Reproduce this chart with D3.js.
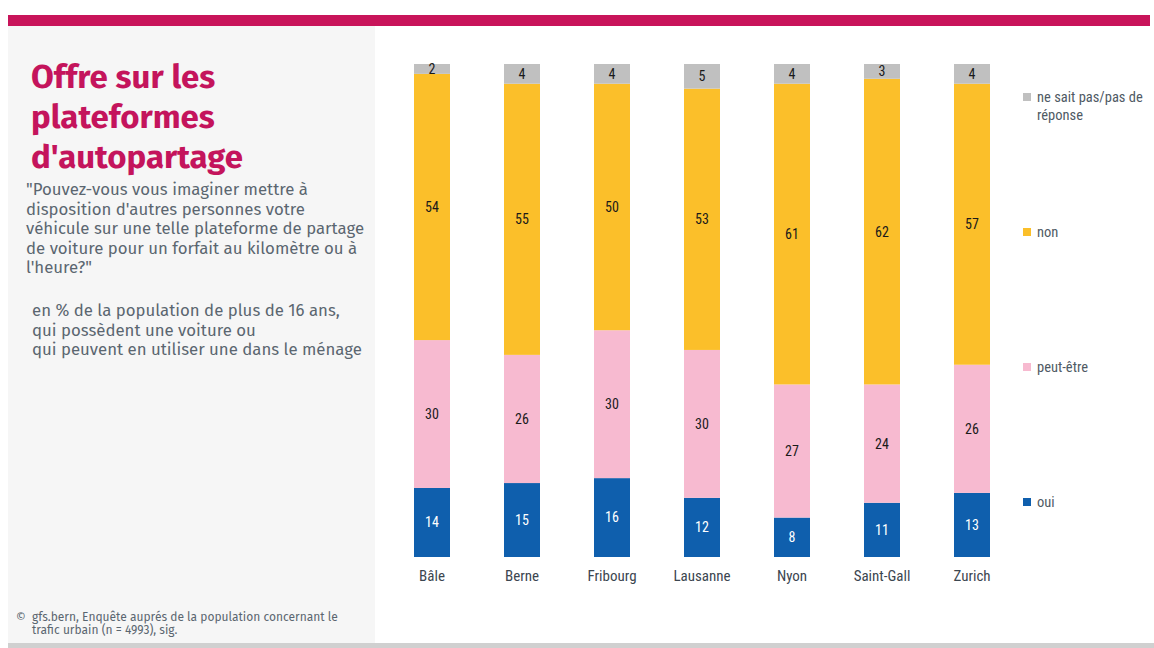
<!DOCTYPE html>
<html>
<head>
<meta charset="utf-8">
<script src="https://cdn.jsdelivr.net/npm/d3@7"></script>
<style>
  html, body { margin: 0; padding: 0; background: #ffffff; }
  svg { display: block; }
</style>
</head>
<body>
<svg id="chart" width="1154" height="648"></svg>
<script>
// Survey answers per city, in %
const cities = ["Bâle", "Berne", "Fribourg", "Lausanne", "Nyon", "Saint-Gall", "Zurich"];
const oui = [14, 15, 16, 12, 8, 11, 13];
const peutEtre = [30, 26, 30, 30, 27, 24, 26];
const non = [54, 55, 50, 53, 61, 62, 57];
const neSaitPas = [2, 4, 4, 5, 4, 3, 4];

const seriesKeys = ["oui", "peut-être", "non", "ne sait pas/pas de réponse"];
const seriesColors = ["#0f5fad", "#f7bad0", "#fbbf2a", "#c0c0c0"];
const labelColors = ["#ffffff", "#1a1a1a", "#1a1a1a", "#1a1a1a"];

const titleLines = ["Offre sur les", "plateformes", "d'autopartage"];
const questionLines = [
  "\"Pouvez-vous vous imaginer mettre à",
  "disposition d'autres personnes votre",
  "véhicule sur une telle plateforme de partage",
  "de voiture pour un forfait au kilomètre ou à",
  "l'heure?\""
];
const baseLines = [
  "en % de la population de plus de 16 ans,",
  "qui possèdent une voiture ou",
  "qui peuvent en utiliser une dans le ménage"
];
const sourceLines = [
  "gfs.bern, Enquête auprés de la population concernant le",
  "trafic urbain (n = 4993), sig."
];

const svg = d3.select("#chart");
const textFont = "'Fira Sans', 'Noto Sans', 'Open Sans', sans-serif";
const condFont = "'Roboto Condensed', 'Liberation Sans Narrow', 'Roboto', sans-serif";

// Frame: header stripe, left panel, bottom rule
svg.append("rect").attr("x", 8).attr("y", 15).attr("width", 1142).attr("height", 11).attr("fill", "#c8145a");
svg.append("rect").attr("x", 8).attr("y", 26).attr("width", 367).attr("height", 617).attr("fill", "#f6f6f6");
svg.append("rect").attr("x", 8).attr("y", 643).attr("width", 1146).attr("height", 5).attr("fill", "#d0d0d0");

// Title
svg.append("g").selectAll("text").data(titleLines).join("text")
  .attr("x", 31).attr("y", (d, i) => 88 + i * 40)
  .attr("font-family", textFont).attr("font-weight", 700).attr("font-size", 33)
  .attr("fill", "#c4145c").text(d => d);

// Question and base description
svg.append("g").selectAll("text").data(questionLines).join("text")
  .attr("x", 26).attr("y", (d, i) => 195 + i * 19.5)
  .attr("font-family", textFont).attr("font-size", 16.8)
  .attr("fill", "#5b6670").text(d => d);

svg.append("g").selectAll("text").data(baseLines).join("text")
  .attr("x", 32).attr("y", (d, i) => 316 + i * 19.5)
  .attr("font-family", textFont).attr("font-size", 16.8)
  .attr("fill", "#5b6670").text(d => d);

// Source
const src = svg.append("g").attr("font-family", textFont).attr("font-size", 12).attr("fill", "#5b6670");
src.append("text").attr("x", 16).attr("y", 621).text("©");
src.selectAll("text.line").data(sourceLines).join("text").attr("class", "line")
  .attr("x", 32).attr("y", (d, i) => 621 + i * 13).text(d => d);

// Stacked bars
const rows = cities.map((c, i) => ({
  city: c,
  "oui": oui[i],
  "peut-être": peutEtre[i],
  "non": non[i],
  "ne sait pas/pas de réponse": neSaitPas[i]
}));
const stacked = d3.stack().keys(seriesKeys)(rows);

const x = d3.scaleBand().domain(cities).range([387, 1017]).paddingInner(0.6).paddingOuter(0.3);
const y = d3.scaleLinear().domain([0, 100]).range([557, 64]);

const layers = svg.append("g").selectAll("g").data(stacked).join("g")
  .attr("fill", (d, i) => seriesColors[i]);
layers.selectAll("rect").data(d => d).join("rect")
  .attr("x", d => x(d.data.city))
  .attr("y", d => y(d[1]))
  .attr("width", x.bandwidth())
  .attr("height", d => y(d[0]) - y(d[1]));

const labels = svg.append("g").selectAll("g").data(stacked).join("g")
  .attr("fill", (d, i) => labelColors[i]);
labels.selectAll("text").data(d => d).join("text")
  .attr("x", d => x(d.data.city) + x.bandwidth() / 2)
  .attr("y", d => (y(d[0]) + y(d[1])) / 2)
  .attr("dy", "0.35em")
  .attr("text-anchor", "middle")
  .attr("font-family", condFont).attr("font-size", 14)
  .text(d => d[1] - d[0]);

// City axis
const axis = svg.append("g").attr("transform", "translate(0,557)")
  .call(d3.axisBottom(x).tickSize(0).tickPadding(13));
axis.select(".domain").remove();
axis.selectAll("text").attr("font-family", condFont).attr("font-size", 15).attr("fill", "#3c4650");

// Legend
const legendY = d3.scalePoint().domain(seriesKeys.slice().reverse()).range([97, 502]);
const legend = svg.append("g").selectAll("g").data(seriesKeys).join("g")
  .attr("transform", d => `translate(1023,${legendY(d)})`);
legend.append("rect").attr("x", 0).attr("y", -4).attr("width", 8).attr("height", 8)
  .attr("fill", (d, i) => seriesColors[i]);
legend.append("text").attr("x", 14).attr("y", 0).attr("dy", "0.35em")
  .attr("font-family", condFont).attr("font-size", 14.5).attr("fill", "#4f5a64")
  .each(function (d) {
    const t = d3.select(this);
    if (d === "ne sait pas/pas de réponse") {
      t.append("tspan").attr("x", 14).text("ne sait pas/pas de");
      t.append("tspan").attr("x", 14).attr("dy", "1.25em").text("réponse");
    } else {
      t.text(d);
    }
  });
</script>
</body>
</html>
